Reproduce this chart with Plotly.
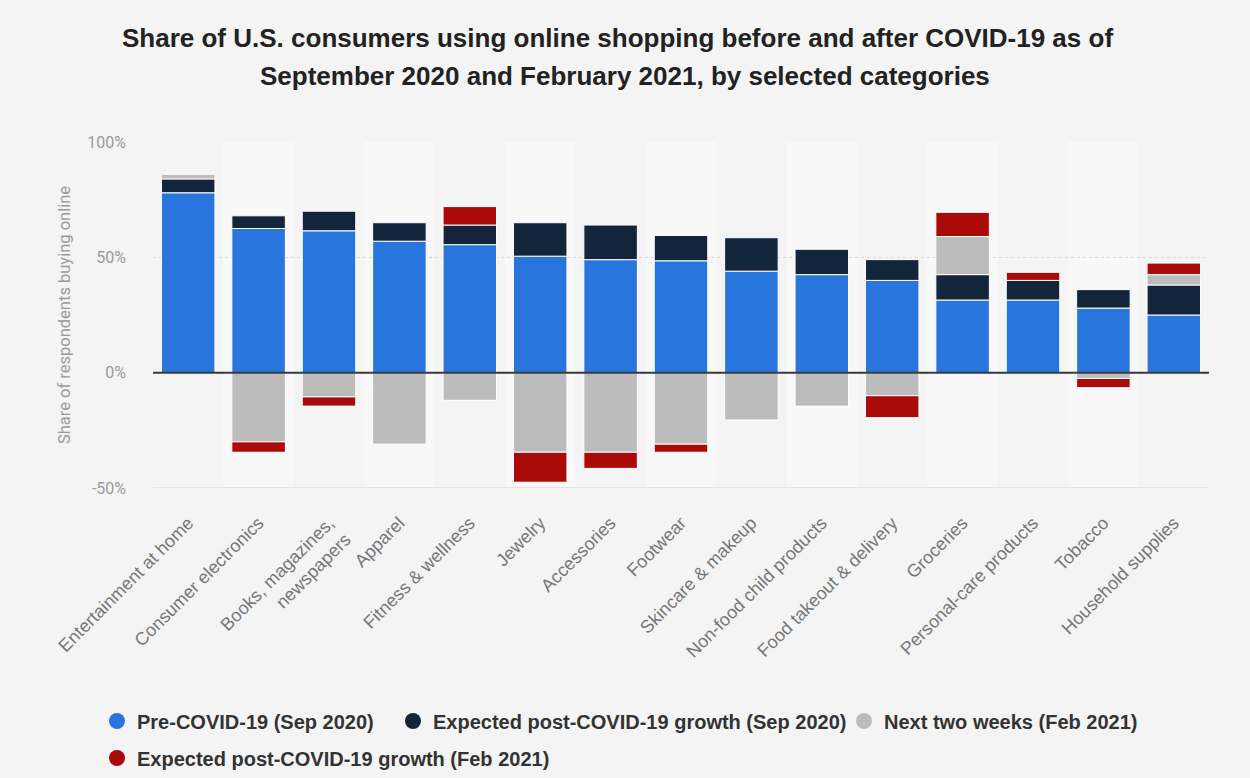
import plotly.graph_objects as go

# Categories shown on the x axis
categories = [
    "Entertainment at home", "Consumer electronics", "Books, magazines,<br>newspapers",
    "Apparel", "Fitness & wellness", "Jewelry", "Accessories", "Footwear",
    "Skincare & makeup", "Non-food child products", "Food takeout & delivery",
    "Groceries", "Personal-care products", "Tobacco", "Household supplies",
]

# Share of respondents (%) per series; None = no segment
pre_covid_sep2020 = [78, 62.5, 61.5, 57, 55.5, 50.5, 49, 48.5, 44, 42.5, 40, 31.5, 31.5, 28, 25]
post_growth_sep2020 = [6, 5.5, 8.5, 8, 8.5, 14.5, 15, 11, 14.5, 11, 9, 11, 8.5, 8, 13]
next_two_weeks_feb2021 = [2, -30, -10.5, -31, -12, -34.5, -34.5, -31, -20.5, -14.5, -10, 16.5, None, -2.5, 4.5]
post_growth_feb2021 = [None, -4.5, -4, None, 8, -13, -7, -3.5, None, None, -9.5, 10.5, 3.5, -4, 5]

series_names = [
    "Pre-COVID-19 (Sep 2020)",
    "Expected post-COVID-19 growth (Sep 2020)",
    "Next two weeks (Feb 2021)",
    "Expected post-COVID-19 growth (Feb 2021)",
]
series_colors = ["#2876dd", "#13253b", "#bcbcbc", "#aa0a0a"]
series_values = [pre_covid_sep2020, post_growth_sep2020, next_two_weeks_feb2021, post_growth_feb2021]

y_ticks = [-50, 0, 50, 100]
y_tick_labels = ["-50%", "0%", "50%", "100%"]

W, H = 1250, 778
M_L, M_R, M_T, M_B = 153, 41, 142, 290
plot_w, plot_h = W - M_L - M_R, H - M_T - M_B

fig = go.Figure()

for name, color, vals in zip(series_names, series_colors, series_values):
    fig.add_trace(go.Bar(
        x=categories, y=vals, name=name,
        marker=dict(color=color, line=dict(color="#ffffff", width=1)),
        showlegend=False, width=0.76,
    ))

# Legend entries: one legend box per entry, laid out as two rows
legend_ids = ["legend", "legend2", "legend3", "legend4"]
legend_pos = [(115, 721), (411, 721), (862, 721), (115, 758)]  # marker centre, px
for name, color, lid in zip(series_names, series_colors, legend_ids):
    fig.add_trace(go.Scatter(
        x=[None], y=[None], mode="markers", name=name, legend=lid,
        marker=dict(color=color, size=16, symbol="circle"),
    ))

legend_font = dict(family="Liberation Sans, Arial, sans-serif", size=20, color="#333333", weight="bold")
legend_layouts = {}
for lid, (mx, my) in zip(legend_ids, legend_pos):
    legend_layouts[lid] = dict(
        orientation="h", xref="container", yref="container",
        x=(mx - 18) / W, y=1 - my / H, xanchor="left", yanchor="middle",
        font=legend_font, itemsizing="trace", itemwidth=30,
        bgcolor="rgba(0,0,0,0)",
    )

# Alternating column shading
shapes = []
for i in range(len(categories)):
    if i % 2 == 1:
        shapes.append(dict(
            type="rect", xref="x", yref="paper", x0=i - 0.5, x1=i + 0.5, y0=0, y1=1,
            fillcolor="#f8f8f8", line=dict(width=0), layer="below",
        ))
# Bottom gridline (solid) and zero baseline
shapes.append(dict(type="line", xref="paper", yref="y", x0=0, x1=1, y0=-50, y1=-50,
                   line=dict(color="#e2e2e2", width=2), layer="below"))
shapes.append(dict(type="line", xref="paper", yref="y", x0=0, x1=1, y0=0, y1=0,
                   line=dict(color="#3a3a3a", width=2), layer="above"))

# Two-line title, positioned in pixels relative to the plot area
title_font = dict(family="Liberation Sans, Arial, sans-serif", size=26, color="#222222", weight="bold")
title_lines = [
    ("Share of U.S. consumers using online shopping before and after COVID-19 as of", 617, 38),
    ("September 2020 and February 2021, by selected categories", 625, 76),
]
annotations = [
    dict(text=txt, xref="paper", yref="paper",
         x=(xpx - M_L) / plot_w, y=(H - M_B - ypx) / plot_h,
         xanchor="center", yanchor="middle", showarrow=False, font=title_font)
    for txt, xpx, ypx in title_lines
]

fig.update_layout(
    width=W, height=H,
    margin=dict(l=M_L, r=M_R, t=M_T, b=M_B),
    paper_bgcolor="#f4f4f4", plot_bgcolor="#f4f4f4",
    barmode="relative",
    shapes=shapes, annotations=annotations,
    font=dict(family="Roboto, Arial, sans-serif", color="#999999"),
    xaxis=dict(
        tickangle=-45, tickfont=dict(family="Liberation Sans, Arial, sans-serif", size=18, color="#777777"),
        showgrid=False, zeroline=False, showline=False, ticks="",
        range=[-0.5, len(categories) - 0.5], ticklabelstandoff=20,
    ),
    yaxis=dict(
        range=[-50, 100], tickvals=y_ticks, ticktext=y_tick_labels,
        tickfont=dict(size=16, color="#9a9a9a"),
        showgrid=True, gridcolor="#d9d9d9", griddash="dot", gridwidth=1,
        zeroline=False, ticklabelstandoff=26,
        title=dict(text="Share of respondents buying online", font=dict(size=16.5, color="#9a9a9a"), standoff=12),
    ),
    **legend_layouts,
)

fig.write_html("out.html")
